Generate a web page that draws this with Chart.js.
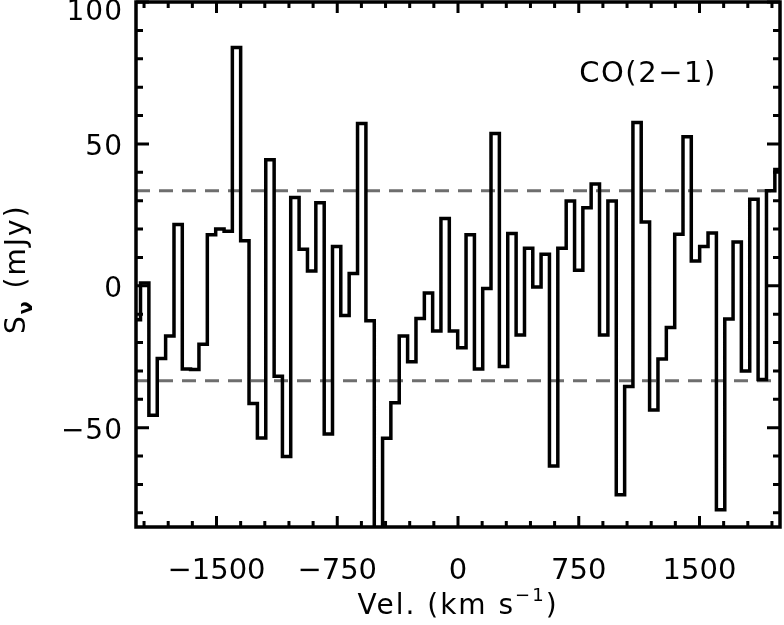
<!DOCTYPE html>
<html>
<head>
<meta charset="utf-8">
<script src="https://cdn.jsdelivr.net/npm/chart.js@4.4.1/dist/chart.umd.min.js"></script>
<style>
  html, body { margin: 0; padding: 0; background: #fff; }
</style>
</head>
<body>
<canvas id="spectrum" width="784" height="625"></canvas>
<script>
// channel centres (km/s)
const velocities = [
  -1998, -1946, -1894, -1842, -1790, -1738, -1687, -1635, -1583, -1531,
  -1479, -1427, -1376, -1324, -1272, -1220, -1168, -1116, -1065, -1013,
  -961, -909, -857, -805, -754, -702, -650, -598, -546, -494,
  -443, -391, -339, -287, -235, -183, -132, -80, -28, 24,
  76, 128, 179, 231, 283, 335, 387, 439, 490, 542,
  594, 646, 698, 750, 801, 853, 905, 957, 1009, 1061,
  1112, 1164, 1216, 1268, 1320, 1372, 1423, 1475, 1527, 1579,
  1631, 1683, 1734, 1786, 1838, 1890, 1942, 1994
];

// flux density per channel (mJy)
const fluxes = [
  -12, 1, -45.6, -25.6, -17.7, 21.6, -29.3, -29.5, -20.6, 18.0,
  20.0, 19.2, 84.0, 15.9, -41.5, -53.6, 44.4, -31.9, -60.2, 31.1,
  12.9, 5.2, 29.3, -52.2, 13.8, -10.5, 4.3, 57.2, -12.3, -100,
  -53.7, -41.2, -17.7, -26.8, -11.5, -2.5, -15.9, 23.7, -15.9, -21.8,
  18.0, -29.3, -1.0, 53.7, -28.4, 18.4, -17.3, 13.2, -0.4, 11.1,
  -63.5, 13.2, 29.9, 5.5, 27.5, 35.9, -17.3, 29.9, -73.6, -35.5,
  57.5, 22.5, -43.8, -25.8, -14.7, 18.2, 52.5, 8.7, 13.8, 18.6,
  -78.9, -11.7, 15.4, -30, 30.5, -33, 33.5, 41
];

const noiseLevel = 33.5;           // dashed lines at +/- this
const xTickLabels = [-1500, -750, 0, 750, 1500];
const yTickLabels = [-50, 0, 50, 100];
const lineLabel = "CO(2\u22121)";

const FONT = "'DejaVu Sans', sans-serif";
const fmt = v => (v < 0 ? "\u2212" + Math.abs(v) : String(v));

const spectrum = velocities.map((v, i) => ({ x: v, y: fluxes[i] }));
const xMin = -2000, xMax = 2000, yMin = -85, yMax = 100;

// IDL-style frame, inward ticks, custom labels
const framePlugin = {
  id: "frame",
  afterDraw(chart) {
    const ctx = chart.ctx;
    const a = chart.chartArea;
    const xs = chart.scales.x, ys = chart.scales.y;
    ctx.save();
    ctx.strokeStyle = "#000";
    ctx.lineWidth = 3.5;
    ctx.strokeRect(a.left, a.top, a.right - a.left, a.bottom - a.top);

    // x ticks every 150, major every 750
    ctx.lineWidth = 3;
    ctx.beginPath();
    for (let v = -1950; v <= 1950; v += 150) {
      const px = xs.getPixelForValue(v);
      const len = v % 750 === 0 ? 11 : 6;
      ctx.moveTo(px, a.bottom); ctx.lineTo(px, a.bottom - len);
      ctx.moveTo(px, a.top); ctx.lineTo(px, a.top + len);
    }
    // y ticks every 10, major every 50
    for (let v = -80; v <= 100; v += 10) {
      const py = ys.getPixelForValue(v);
      const len = v % 50 === 0 ? 13 : 7;
      ctx.moveTo(a.left, py); ctx.lineTo(a.left + len, py);
      ctx.moveTo(a.right, py); ctx.lineTo(a.right - len, py);
    }
    ctx.stroke();

    ctx.fillStyle = "#000";
    // y tick labels
    ctx.font = "28px " + FONT;
    ctx.textAlign = "right";
    ctx.textBaseline = "middle";
    ctx.letterSpacing = "1px";
    yTickLabels.forEach(v => {
      const py = Math.max(ys.getPixelForValue(v) + 4, 13);
      ctx.fillText(fmt(v), 123, py);
    });

    // x title with superscript
    ctx.textBaseline = "alphabetic";
    ctx.textAlign = "left";
    ctx.letterSpacing = "2px";
    const big = "28px " + FONT, small = "18px " + FONT;
    ctx.font = big;
    const w1 = ctx.measureText("Vel. (km s").width;
    const w3 = ctx.measureText(")").width;
    ctx.font = small;
    const w2 = ctx.measureText("\u22121").width;
    let x0 = (a.left + a.right) / 2 - (w1 + w2 + w3) / 2;
    ctx.font = big;
    ctx.fillText("Vel. (km s", x0, 614);
    ctx.font = small;
    ctx.fillText("\u22121", x0 + w1, 601);
    ctx.font = big;
    ctx.fillText(")", x0 + w1 + w2, 614);

    // y title, rotated, with subscript nu
    ctx.save();
    ctx.translate(25, 334);
    ctx.rotate(-Math.PI / 2);
    ctx.font = big;
    const sW = ctx.measureText("S").width;
    ctx.fillText("S", 0, 0);
    ctx.font = "bold 19px " + FONT;
    const nW = ctx.measureText("\u03bd").width;
    ctx.fillText("\u03bd", sW, 7);
    ctx.font = big;
    ctx.fillText(" (mJy)", sW + nW, 0);
    ctx.restore();

    // line label
    ctx.font = "29px " + FONT;
    ctx.letterSpacing = "1.5px";
    ctx.textAlign = "center";
    ctx.fillText(lineLabel, 648, 82);
    ctx.restore();
  }
};

new Chart(document.getElementById("spectrum"), {
  type: "line",
  data: {
    datasets: [
      {
        data: spectrum,
        stepped: "middle",
        borderColor: "#000",
        borderWidth: 3.5,
        pointRadius: 0,
        fill: false
      },
      {
        data: [{ x: xMin, y: noiseLevel }, { x: xMax, y: noiseLevel }],
        borderColor: "#6e6e6e",
        borderWidth: 3,
        borderDash: [14, 9],
        pointRadius: 0
      },
      {
        data: [{ x: xMin, y: -noiseLevel }, { x: xMax, y: -noiseLevel }],
        borderColor: "#6e6e6e",
        borderWidth: 3,
        borderDash: [14, 9],
        pointRadius: 0
      }
    ]
  },
  options: {
    responsive: false,
    animation: false,
    devicePixelRatio: 1,
    layout: { padding: { top: 2, right: 4, left: 0, bottom: 0 } },
    plugins: { legend: { display: false }, tooltip: { enabled: false } },
    scales: {
      x: {
        type: "linear",
        min: xMin,
        max: xMax,
        grid: { display: false },
        border: { display: false },
        ticks: {
          color: "#000",
          font: { family: FONT, size: 29 },
          padding: 19,
          maxRotation: 0,
          callback: v => fmt(v)
        },
        afterBuildTicks: s => { s.ticks = xTickLabels.map(v => ({ value: v })); },
        afterFit: s => { s.height = 98; }
      },
      y: {
        type: "linear",
        min: yMin,
        max: yMax,
        grid: { display: false },
        border: { display: false },
        ticks: { display: false },
        afterFit: s => { s.width = 136; }
      }
    }
  },
  plugins: [framePlugin]
});
</script>
</body>
</html>
